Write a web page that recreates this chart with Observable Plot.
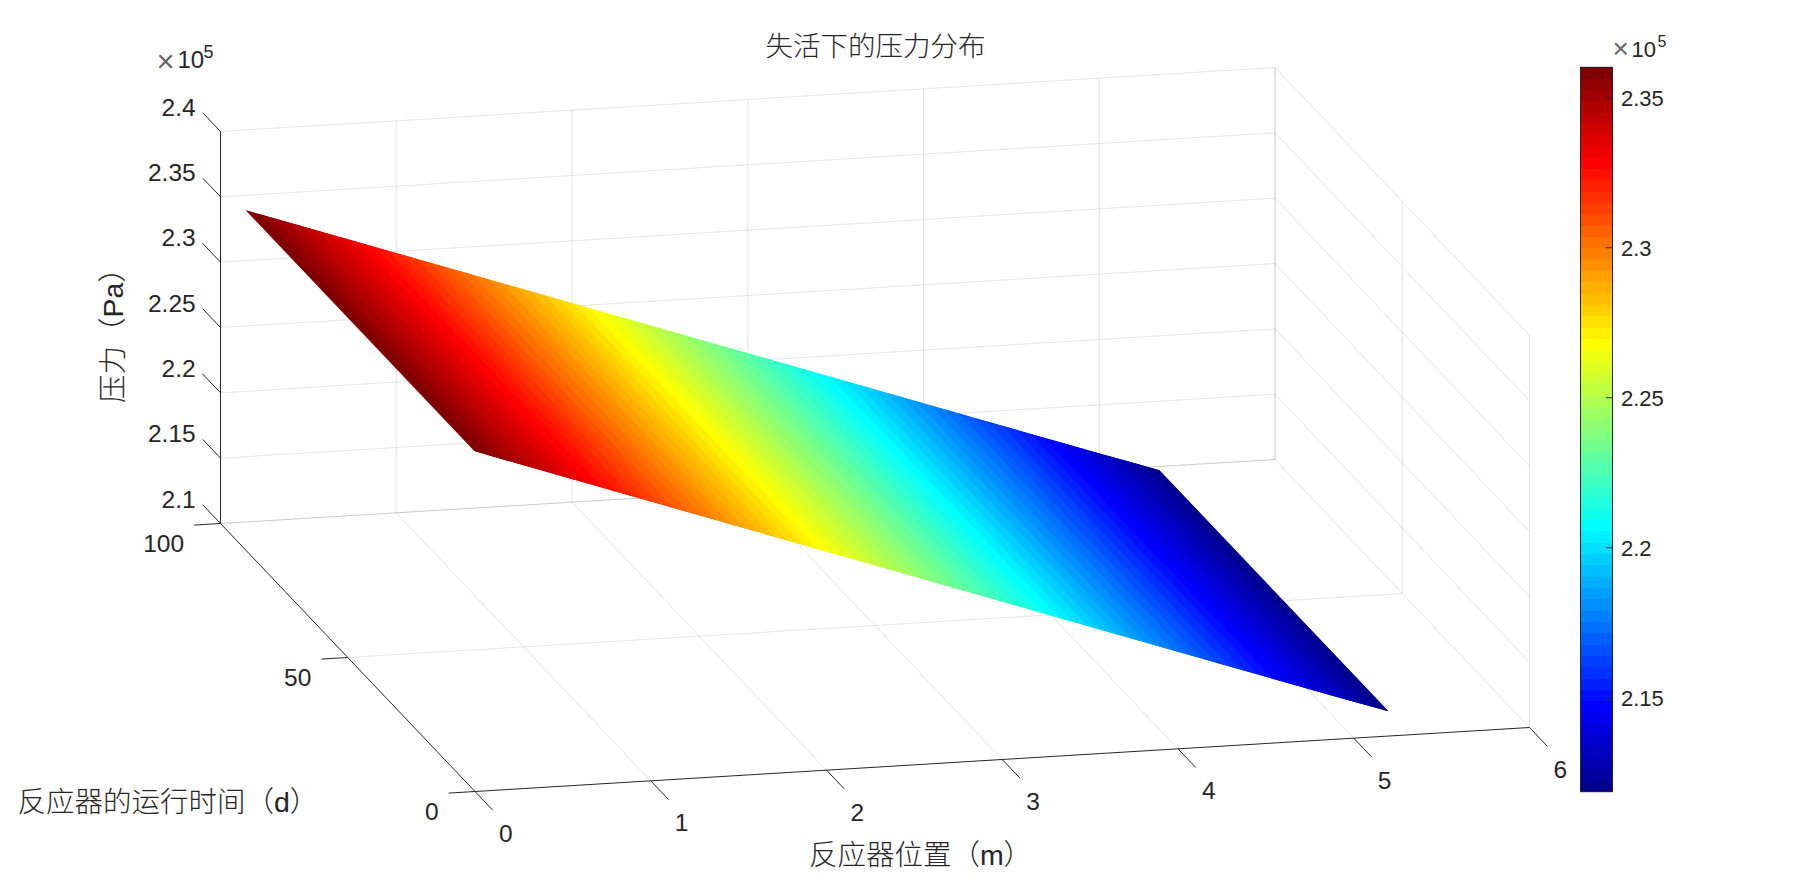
<!DOCTYPE html>
<html>
<head>
<meta charset="utf-8">
<script src="https://cdn.jsdelivr.net/npm/d3@7"></script>
<script src="https://cdn.jsdelivr.net/npm/@observablehq/plot@0.6"></script>
<style>html,body{margin:0;padding:0;background:#fff}svg{display:block}</style>
</head>
<body>
<div id="chart"></div>
<script>
// ---- Values ----
const positions = [0, 0.4, 0.8, 1.2, 1.6, 2.0, 2.4, 2.8, 3.2, 3.6, 4.0, 4.4, 4.8, 5.2];
const pressures = [2.36, 2.3414, 2.3228, 2.3042, 2.2856, 2.267, 2.2484, 2.2298, 2.2112, 2.1926, 2.174, 2.1554, 2.1368, 2.1185];
const timeExtent = [0, 90];
const xTicks = [0, 1, 2, 3, 4, 5, 6];
const yTicks = [0, 50, 100];
const zTicks = [2.1, 2.15, 2.2, 2.25, 2.3, 2.35, 2.4];
const zTickLabels = ["2.1", "2.15", "2.2", "2.25", "2.3", "2.35", "2.4"];
const barTicks = [2.15, 2.2, 2.25, 2.3, 2.35];
const barTickLabels = ["2.15", "2.2", "2.25", "2.3", "2.35"];
const colorLimits = [2.1185, 2.36];
const titleText = "失活下的压力分布";
const xLabel = "反应器位置（m）";
const yLabel = "反应器的运行时间（d）";
const zLabel = "压力（Pa）";

// ---- Style ----
const jetRows = [1, 8, 24, 40, 56, 64];
const jetColors = ["#000090", "#0000ff", "#00ffff", "#ffff00", "#ff0000", "#800000"];
const ink = "#262626";
const latin = "'Liberation Sans', Arial, 'Noto Sans CJK SC'";
const W = 1807, H = 890;

// ---- Orthographic view of the axes box ----
const project = (x, y, z) => {
  const xn = x / 6, yn = y / 100, zn = (z - 2.1) / 0.3;
  return [474.5 + 1054.5 * xn - 254.5 * yn, 791 - 64 * xn - 268 * yn - 392 * zn];
};
const seg = (a, b, extra = {}) => {
  const p = project(...a), q = project(...b);
  return {x1: p[0], y1: p[1], x2: q[0], y2: q[1], ...extra};
};

// ---- Colormap: 64 levels ----
const nLevels = 64;
const jet = d3.scaleLinear().domain(jetRows).range(jetColors);
const levelColors = d3.range(1, nLevels + 1).map(r => jet(r));
const levelStep = (colorLimits[1] - colorLimits[0]) / nLevels;
const thresholds = d3.range(1, nLevels).map(i => colorLimits[0] + i * levelStep);
const levels = d3.range(nLevels).map(i => ({
  lo: colorLimits[0] + i * levelStep,
  hi: colorLimits[0] + (i + 1) * levelStep,
  mid: colorLimits[0] + (i + 0.5) * levelStep
}));

// ---- Surface: one strip per colour level, each reaching under the next to hide seams ----
const xAtPressure = d3.scaleLinear().domain(pressures.slice().reverse()).range(positions.slice().reverse()).clamp(true);
const surface = [];
levels.slice().reverse().forEach((l, k) => {
  const xs = xAtPressure(l.hi);
  const xe = xAtPressure(l.lo - levelStep);
  [xs, xe].forEach(x => {
    const z = d3.scaleLinear().domain(positions).range(pressures)(x);
    const f = project(x, timeExtent[0], z), b = project(x, timeExtent[1], z);
    surface.push({band: k, value: l.mid, x1: f[0], y1: f[1], x2: b[0], y2: b[1]});
  });
});

// ---- Grid ----
const zLo = zTicks[0], zHi = zTicks[zTicks.length - 1];
const xHi = xTicks[xTicks.length - 1], yHi = yTicks[yTicks.length - 1];
const grid = [
  ...xTicks.slice(1).map(t => seg([t, 0, zLo], [t, yHi, zLo])),
  ...xTicks.slice(1).map(t => seg([t, yHi, zLo], [t, yHi, zHi])),
  ...yTicks.slice(1).map(t => seg([0, t, zLo], [xHi, t, zLo])),
  ...yTicks.map(t => seg([xHi, t, zLo], [xHi, t, zHi])),
  ...zTicks.slice(1).map(t => seg([0, yHi, t], [xHi, yHi, t])),
  ...zTicks.slice(1).map(t => seg([xHi, 0, t], [xHi, yHi, t])),
  ...xTicks.slice(0, 1).map(t => seg([t, yHi, zLo], [xHi, yHi, zLo]))
];

// ---- Axis lines and ticks ----
const axes = [
  seg([0, 0, zLo], [xHi, 0, zLo]),
  seg([0, 0, zLo], [0, yHi, zLo]),
  seg([0, yHi, zLo], [0, yHi, zHi]),
  ...xTicks.map(t => seg([t, 0, zLo], [t, -7, zLo])),
  ...yTicks.map(t => seg([0, t, zLo], [-0.15, t, zLo])),
  ...zTicks.map(t => seg([0, yHi, t], [0, yHi + 7, t]))
];

const xLabelRows = xTicks.map(t => {
  const p = project(t, -7, zLo);
  return {x: p[0] + 13, y: p[1] + 24, text: String(t)};
});
const yLabelRows = yTicks.map(t => {
  const p = project(-0.15, t, zLo);
  return {x: p[0] - 10, y: p[1] + 19, text: String(t)};
});
const zLabelRows = zTicks.map((t, i) => {
  const p = project(0, yHi + 7, t);
  return {x: p[0] - 7, y: p[1] - 5, text: zTickLabels[i]};
});

// ---- Colour bar ----
const bar = {left: 1580.5, right: 1612.5, top: 67.3, bottom: 791.7};
const barY = d3.scaleLinear().domain(colorLimits).range([bar.bottom, bar.top]);
const barRows = levels.map(l => ({y1: barY(l.lo), y2: barY(l.hi), value: l.mid}));
const barTickRows = barTicks.map((t, i) => ({y: barY(t), text: barTickLabels[i]}));

const txt = (rows, o = {}) => Plot.text(rows, {
  x: "x", y: "y", text: "text", fill: ink, fontFamily: latin, fontSize: 24.5, ...o
});
const one = (x, y, text) => [{x, y, text}];

const chart = Plot.plot({
  width: W, height: H,
  marginTop: 0, marginRight: 0, marginBottom: 0, marginLeft: 0,
  x: {domain: [0, W], range: [0, W], axis: null},
  y: {domain: [0, H], range: [0, H], axis: null},
  color: {type: "threshold", domain: thresholds, range: levelColors},
  marks: [
    Plot.link(grid, {x1: "x1", y1: "y1", x2: "x2", y2: "y2", stroke: "#000", strokeOpacity: 0.11, strokeWidth: 1}),
    Plot.area(surface, {x1: "x1", y1: "y1", x2: "x2", y2: "y2", z: "band", fill: "value", curve: "linear"}),
    Plot.link(axes, {x1: "x1", y1: "y1", x2: "x2", y2: "y2", stroke: ink, strokeWidth: 1}),
    txt(xLabelRows),
    txt(yLabelRows, {textAnchor: "end"}),
    txt(zLabelRows, {textAnchor: "end"}),
    // exponent of the pressure axis
    txt(one(156, 62, "×"), {textAnchor: "start", fontSize: 31, fill: "#666"}),
    txt(one(177, 60, "10"), {textAnchor: "start", fontSize: 24}),
    txt(one(203, 52, "5"), {textAnchor: "start", fontSize: 18}),
    // colour bar
    Plot.rect(barRows, {x1: bar.left, x2: bar.right, y1: "y1", y2: "y2", fill: "value", shapeRendering: "crispEdges"}),
    Plot.rect(one(0, 0, ""), {x1: bar.left, x2: bar.right, y1: bar.top, y2: bar.bottom, fill: "none", stroke: ink, strokeWidth: 1}),
    Plot.link(barTickRows, {x1: bar.right - 7, x2: bar.right, y1: "y", y2: "y", stroke: ink, strokeWidth: 1}),
    txt(barTickRows.map(d => ({...d, x: bar.right + 8, y: d.y + 1})), {textAnchor: "start", fontSize: 22}),
    txt(one(1612, 49, "×"), {textAnchor: "start", fontSize: 28, fill: "#666"}),
    txt(one(1631, 49, "10"), {textAnchor: "start", fontSize: 22}),
    txt(one(1657, 41, "5"), {textAnchor: "start", fontSize: 16}),
    // titles
    txt(one(875, 47, titleText), {fontSize: 27.5, fontWeight: 300}),
    txt(one(920, 855, xLabel), {fontSize: 28.5, fontWeight: 300}),
    txt(one(17, 802, yLabel), {fontSize: 28.5, textAnchor: "start", fontWeight: 300}),
    txt(one(113, 328, zLabel), {fontSize: 28.5, rotate: -90, fontWeight: 300})
  ]
});
document.getElementById("chart").appendChild(chart);
</script>
</body>
</html>
